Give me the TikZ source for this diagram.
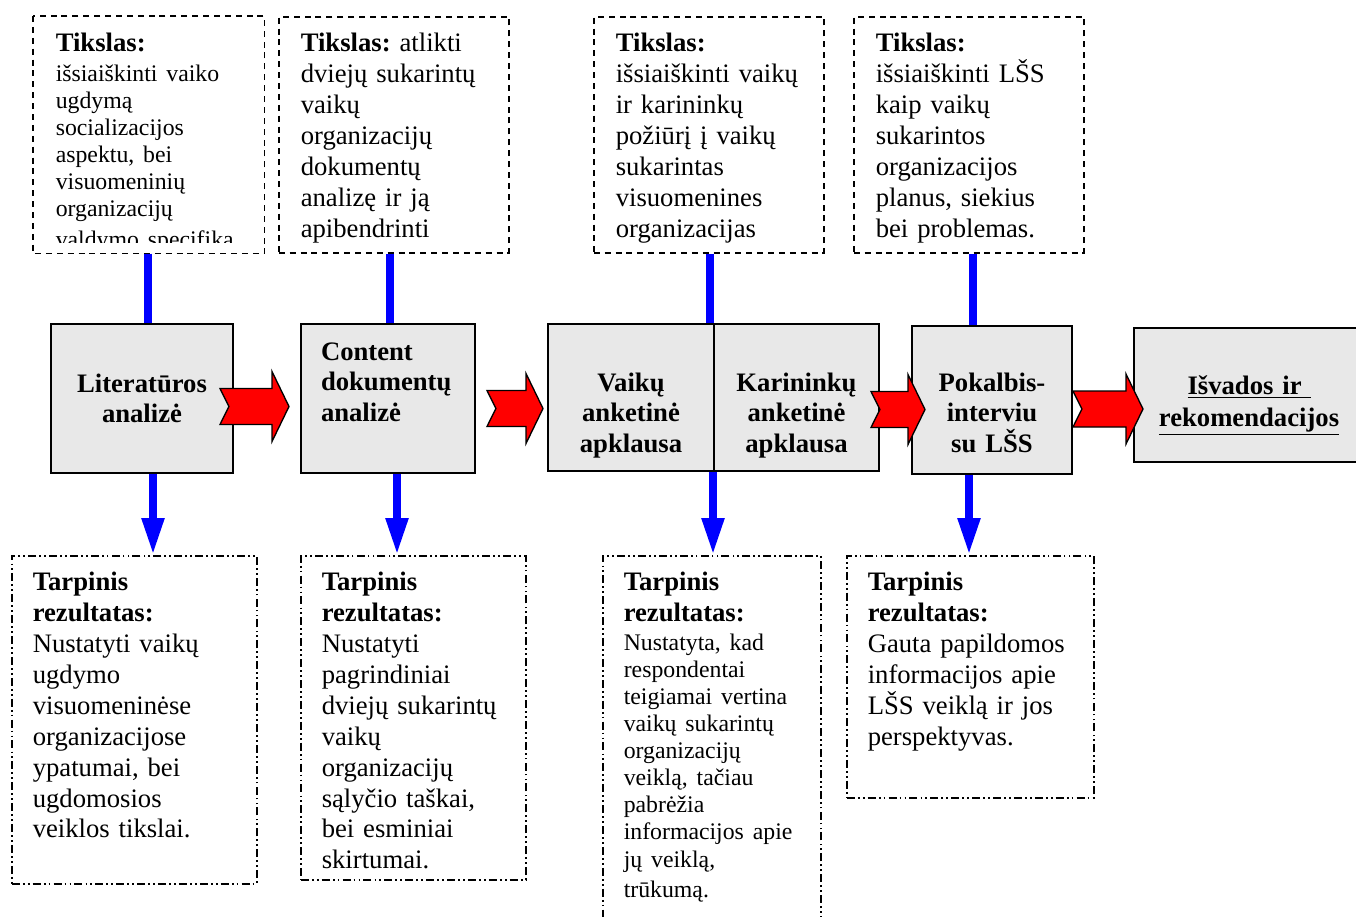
\documentclass[tikz,border=0pt]{standalone}
\usepackage{fontspec}
\setmainfont{Liberation Serif}
\usetikzlibrary{arrows.meta,calc}

\definecolor{boxgray}{RGB}{232,232,232}
\newcommand{\smalltxt}{\fontsize{10.7}{12.2}\selectfont}
\newcommand{\blockarrow}[2]{%
  \draw[redarrow] let \p1=(#1), \p2=(#2) in
    (\x1,\y1+8.1pt) -- (\x2-7.65pt,\y1+8.1pt) -- (\x2-7.65pt,\y1+15.75pt)
    -- (\x2,\y1) -- (\x2-7.65pt,\y1-15.75pt) -- (\x2-7.65pt,\y1-8.1pt)
    -- (\x1,\y1-8.1pt) -- (\x1+4pt,\y1) -- cycle;}

\begin{document}
\frenchspacing
\begin{tikzpicture}[x=0.45pt,y=-0.45pt,font=\fontsize{12}{13.9}\selectfont,
  goalline/.style={line width=0.7pt, dash pattern=on 2.7pt off 2.2pt},
  goal/.style={draw, goalline, anchor=north west, align=left, inner xsep=9.9pt, inner ysep=0pt,
    text width=83.7pt, text height=15.75pt, text depth=90.45pt},
  result/.style={draw, line width=0.7pt, dash pattern=on 3.6pt off 1.4pt on 0.8pt off 1.4pt on 0.8pt off 1.4pt,
    anchor=north west, align=left, inner xsep=9.45pt, inner ysep=0pt, text height=15.75pt},
  stage/.style={draw, line width=0.9pt, fill=boxgray, anchor=north west, align=center, inner sep=0pt,
    font=\fontsize{12}{13.8}\selectfont\bfseries},
  link/.style={blue, line width=3.6pt},
  down/.style={link, -{Triangle[width=9.45pt,length=16.65pt]}},
  redarrow/.style={draw=black, line width=0.6pt, fill=red, line join=miter}]

\useasboundingbox (0,0) rectangle (1356,916);
\clip (0,0) rectangle (1356,916);

% tikslai
\begin{scope}
\clip (33,16) rectangle (263,242);
\node[goal, draw=none] (goal1) at (33,16) {\textbf{Tikslas:}\\[1.1pt] \smalltxt išsiaiškinti vaiko\\ ugdymą\\ socializacijos\\ aspektu, bei\\ visuomeninių\\ organizacijų\\ valdymo specifiką};
\end{scope}
\draw[goalline] (goal1.north west) rectangle (goal1.south east);

\node[goal] (goal2) at (278,16) {\textbf{Tikslas:} atlikti\\ dviejų sukarintų\\ vaikų\\ organizacijų\\ dokumentų\\ analizę ir ją\\ apibendrinti};
\node[goal] (goal3) at (593,16) {\textbf{Tikslas:}\\ išsiaiškinti vaikų\\ ir karininkų\\ požiūrį į vaikų\\ sukarintas\\ visuomenines\\ organizacijas};
\node[goal] (goal4) at (853,16) {\textbf{Tikslas:}\\ išsiaiškinti LŠS\\ kaip vaikų\\ sukarintos\\ organizacijos\\ planus, siekius\\ bei problemas.};

% etapai
\node[stage, text width=81.9pt, text height=30.6pt, text depth=36.45pt] (lit) at (50,323) {Literatūros\\ analizė};
\node[stage, align=left, inner xsep=9pt, text width=60.3pt, text height=16.2pt, text depth=50.85pt] (content) at (300,323) {Content\\ dokumentų\\ analizė};
\node[stage, text width=74.7pt, text height=30.15pt, text depth=36pt] (kids) at (547,323) {Vaikų\\ anketinė\\ apklausa};
\node[stage, text width=74.25pt, text height=30.15pt, text depth=36pt] (officers) at (713,323) {Karininkų\\ anketinė\\ apklausa};
\node[stage, text width=72pt, text height=29.25pt, text depth=37.35pt] (talk) at (911,325) {Pokalbis-\\ interviu\\ su LŠS};
\node[stage, text width=103.5pt, text height=29.7pt, text depth=30.6pt, font=\fontsize{12}{14.4}\selectfont\bfseries] (concl) at (1133,327) {\underline{Išvados ir~}\\ \underline{rekomendacijos}};

% tarpiniai rezultatai
\node[result, text width=91.35pt, text depth=131.85pt] (res1) at (11,555) {\textbf{Tarpinis}\\ \textbf{rezultatas:}\\ Nustatyti vaikų\\ ugdymo\\ visuomeninėse\\ organizacijose\\ ypatumai, bei\\ ugdomosios\\ veiklos tikslai.};
\node[result, text width=82.35pt, text depth=130.05pt] (res2) at (300,555) {\textbf{Tarpinis}\\ \textbf{rezultatas:}\\ Nustatyti\\ pagrindiniai\\ dviejų sukarintų\\ vaikų\\ organizacijų\\ sąlyčio taškai,\\ bei esminiai\\ skirtumai.};
\node[result, text width=79.2pt, text depth=155.25pt] (res3) at (602,555) {\textbf{Tarpinis}\\ \textbf{rezultatas:}\\[0.6pt] \smalltxt Nustatyta, kad\\ respondentai\\ teigiamai vertina\\ vaikų sukarintų\\ organizacijų\\ veiklą, tačiau\\ pabrėžia\\ informacijos apie\\ jų veiklą,\\ trūkumą.};
\node[result, text width=92.25pt, text depth=93.15pt] (res4) at (846,555) {\textbf{Tarpinis}\\ \textbf{rezultatas:}\\ Gauta papildomos\\ informacijos apie\\ LŠS veiklą ir jos\\ perspektyvas.};

% mėlynos linijos
\coordinate (u1) at ($(goal1.south)+(-1,0)$);
\coordinate (u2) at ($(goal2.south)+(-4,0)$);
\coordinate (u3) at ($(goal3.south)+(1.5,0)$);
\coordinate (u4) at ($(goal4.south)+(4,0)$);
\draw[link] (u1) -- (u1 |- lit.north);
\draw[link] (u2) -- (u2 |- content.north);
\draw[link] (u3) -- (u3 |- kids.north);
\draw[link] (u4) -- (u4 |- talk.north);

\coordinate (d1) at ($(lit.south)+(11,0)$);
\coordinate (d2) at ($(content.south)+(9,0)$);
\coordinate (d3) at ($(kids.south east)+(-2,0)$);
\coordinate (d4) at ($(talk.south)+(-23,0)$);
\draw[down] (d1) -- (d1 |- res1.north);
\draw[down] (d2) -- (d2 |- res2.north);
\draw[down] (d3) -- (d3 |- res3.north);
\draw[down] (d4) -- (d4 |- res4.north);

% raudonos rodyklės
\blockarrow{$(lit.east)+(-14,8)$}{$(content.west)+(-11,8)$}
\blockarrow{$(content.east)+(11,10)$}{$(kids.west)+(-4,11)$}
\blockarrow{$(officers.east)+(-9,12)$}{$(talk.west)+(14,9.5)$}
\blockarrow{$(talk.east)+(0,9)$}{$(concl.west)+(10,14)$}

\end{tikzpicture}
\end{document}
